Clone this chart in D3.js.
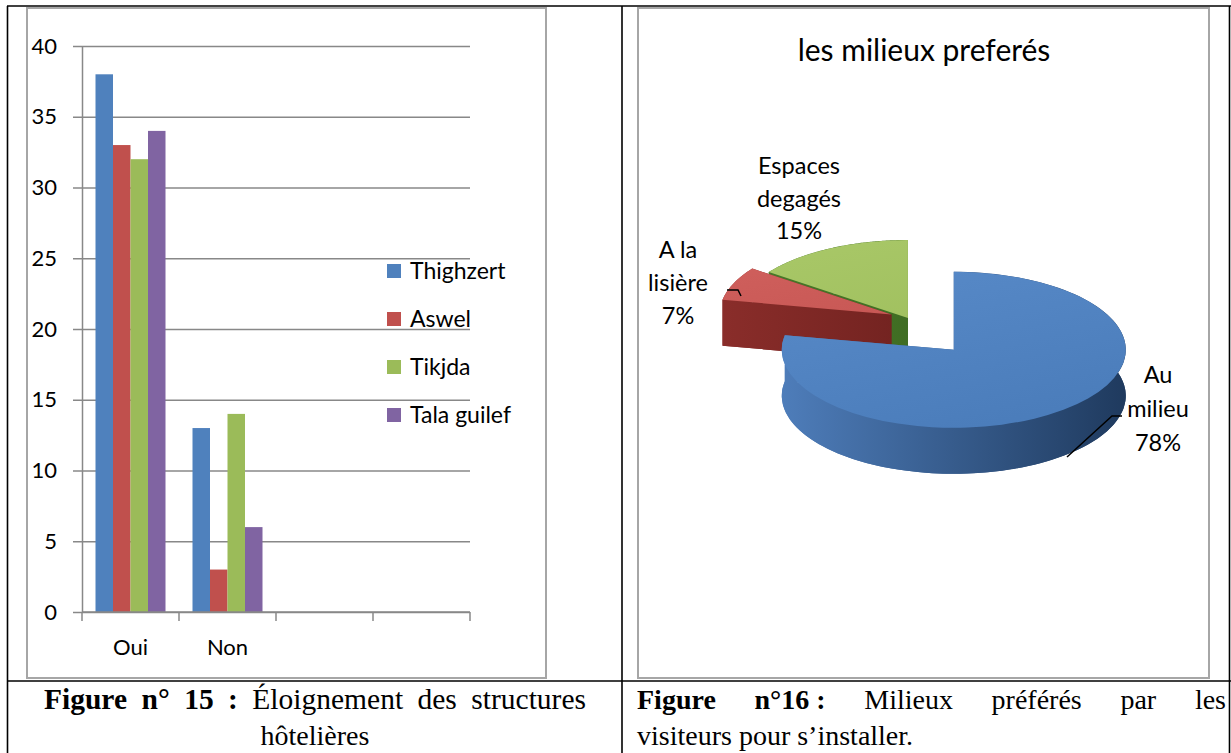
<!DOCTYPE html>
<html><head><meta charset="utf-8">
<script src="https://cdn.jsdelivr.net/npm/d3@7"></script>
<style>
html,body{margin:0;padding:0;background:#fff;}
svg{display:block;}
</style></head>
<body><svg id="c" width="1231" height="753"></svg>
<script>
// ---------- DATA ----------
const categories = ["Oui", "Non", "", ""];
const seriesNames = ["Thighzert", "Aswel", "Tikjda", "Tala guilef"];
const thighzert = [38, 13];
const aswel = [33, 3];
const tikjda = [32, 14];
const talaGuilef = [34, 6];
const yTicks = [0, 5, 10, 15, 20, 25, 30, 35, 40];

const pieTitle = "les milieux preferés";
const pieLabels = ["Au milieu", "A la lisière", "Espaces degagés"];
const pieLabelLines = [["Au", "milieu"], ["A la", "lisière"], ["Espaces", "degagés"]];
const pieValues = [78, 7, 15];

const caption1BoldWords = ["Figure", "n°", "15", ":"];
const caption1Words = ["Éloignement", "des", "structures"];
const caption1Line2 = "hôtelières";
const caption2BoldWords = ["Figure", "n°16 :"];
const caption2Words = ["Milieux", "préférés", "par", "les"];
const caption2Line2 = "visiteurs pour s’installer.";

// ---------- SETUP ----------
const svg = d3.select("#c");
const FONT = "Lato, 'Open Sans', sans-serif";
const SERIF = "'Liberation Serif', 'Times New Roman', serif";
const barColors = ["#4f81bd", "#c0504d", "#9bbb59", "#8064a2"];
const seriesValues = [thighzert, aswel, tikjda, talaGuilef];

// ---------- LEFT: grouped bar chart ----------
svg.append("rect").attr("x", 27).attr("y", 8).attr("width", 519).attr("height", 670)
  .attr("fill", "#fff").attr("stroke", "#a6a6a6").attr("stroke-width", 2);

const y = d3.scaleLinear().domain([0, 40]).range([612, 46]);
const x0 = d3.scaleBand().domain(d3.range(categories.length)).range([82, 470]);
const x1 = d3.scaleBand().domain(seriesNames).range([13.5, 83.5]);

const gy = svg.append("g").attr("transform", "translate(82,0)")
  .call(d3.axisLeft(y).tickValues(yTicks).tickSize(-(470 - 82)).tickSizeOuter(0).tickPadding(25));
gy.select(".domain").attr("stroke", "#888").attr("stroke-width", 1.5);
gy.selectAll(".tick line").attr("x1", -9).attr("stroke", "#888").attr("stroke-width", 1.5);
gy.selectAll(".tick text").attr("font-family", FONT).attr("font-size", 22).attr("fill", "#000");

const bars = svg.append("g");
categories.forEach((cat, ci) => {
  seriesNames.forEach((s, si) => {
    const v = seriesValues[si][ci];
    if (v === undefined) return;
    bars.append("rect")
      .attr("x", x0(ci) + x1(s))
      .attr("y", y(v))
      .attr("width", x1.bandwidth())
      .attr("height", y(0) - y(v))
      .attr("fill", barColors[si]);
  });
});

// x axis (Excel-like: ticks at category boundaries)
const xa = svg.append("g");
xa.append("line").attr("x1", x0.range()[0]).attr("x2", x0.range()[1])
  .attr("y1", y(0)).attr("y2", y(0)).attr("stroke", "#888").attr("stroke-width", 1.5);
const bounds = categories.map((c, i) => x0(i)).concat([x0.range()[1]]);
xa.selectAll("line.t").data(bounds).join("line").attr("class", "t")
  .attr("x1", d => d).attr("x2", d => d).attr("y1", y(0)).attr("y2", y(0) + 9)
  .attr("stroke", "#888").attr("stroke-width", 1.5);
xa.selectAll("text").data(categories).join("text")
  .attr("x", (d, i) => x0(i) + x0.bandwidth() / 2).attr("y", 647).attr("dy", "0.35em")
  .attr("text-anchor", "middle").attr("font-family", FONT).attr("font-size", 22).text(d => d);

// legend
const leg = svg.append("g");
seriesNames.forEach((s, i) => {
  const cy = 271 + i * 48;
  leg.append("rect").attr("x", 387).attr("y", cy - 7).attr("width", 14).attr("height", 14).attr("fill", barColors[i]);
  leg.append("text").attr("x", 410).attr("y", cy).attr("dy", "0.35em")
    .attr("font-family", FONT).attr("font-size", 23).text(s);
});

// ---------- RIGHT: 3D exploded pie ----------
svg.append("rect").attr("x", 638).attr("y", 8).attr("width", 571).attr("height", 670)
  .attr("fill", "#fff").attr("stroke", "#a6a6a6").attr("stroke-width", 2);

svg.append("text").attr("x", 924).attr("y", 50).attr("dy", "0.35em").attr("text-anchor", "middle")
  .attr("font-family", FONT).attr("font-size", 30).text(pieTitle);

const pieCx = 927, pieCy = 335, R = 172, RY = 78, DEPTH = 46, EXPLODE = 42, EXPLODE_K = 0.456;
const nudge = [[0, 0], [3, -13], [0, 0]];  // perspective tweak per slice
const topLight = ["#5789c7", "#d0605d", "#a8c767"];
const topBase = ["#4a7cba", "#c0504d", "#9bbb59"];
const sideLight = ["#4e7dba", "#8a2d2a", "#4a7a2a"];
const sideDark = ["#1f3a5e", "#5e1a18", "#35601c"];
const k = RY / R;
const Dl = DEPTH / k;

const defs = svg.append("defs");
const arcs = d3.pie().sort(null).value(d => d)(pieValues);
const arcGen = d3.arc().innerRadius(0).outerRadius(R);

const slices = arcs.map((a, i) => {
  const mid = (a.startAngle + a.endAngle) / 2;
  return {
    a, i,
    vx: pieCx + Math.sin(mid) * EXPLODE + nudge[i][0],
    vy: pieCy - Math.cos(mid) * EXPLODE * EXPLODE_K + nudge[i][1],
    back: Math.cos(mid)
  };
}).sort((p, q) => q.back - p.back);

const pieG = svg.append("g");
slices.forEach(s => {
  const i = s.i, a = s.a;
  const gs = defs.append("linearGradient").attr("id", "side" + i).attr("gradientUnits", "userSpaceOnUse")
    .attr("x1", -R).attr("x2", R).attr("y1", 0).attr("y2", 0);
  gs.append("stop").attr("offset", 0).attr("stop-color", sideLight[i]);
  gs.append("stop").attr("offset", 1).attr("stop-color", sideDark[i]);
  const gt = defs.append("linearGradient").attr("id", "top" + i).attr("gradientUnits", "userSpaceOnUse")
    .attr("x1", -R * 0.5).attr("x2", R * 0.5).attr("y1", -R).attr("y2", R);
  gt.append("stop").attr("offset", 0).attr("stop-color", topLight[i]);
  gt.append("stop").attr("offset", 1).attr("stop-color", topBase[i]);

  const g = pieG.append("g").attr("transform", `translate(${s.vx},${s.vy}) scale(1,${k})`);
  const side = g.append("g").attr("fill", `url(#side${i})`);
  side.append("path").attr("d", arcGen(a)).attr("transform", `translate(0,${Dl})`);
  [a.startAngle, a.endAngle].forEach(t => {
    const px = R * Math.sin(t), py = -R * Math.cos(t);
    side.append("path").attr("d", `M0,0L${px},${py}L${px},${py + Dl}L0,${Dl}Z`);
  });
  const n = 120, pts = [];
  for (let j = 0; j <= n; j++) {
    const t = a.startAngle + (a.endAngle - a.startAngle) * j / n;
    pts.push([R * Math.sin(t), -R * Math.cos(t)]);
  }
  const wall = pts.concat(pts.slice().reverse().map(p => [p[0], p[1] + Dl]));
  side.append("path").attr("d", "M" + wall.map(p => p.join(",")).join("L") + "Z");
  g.append("path").attr("d", arcGen(a)).attr("fill", `url(#top${i})`);
});

// pie labels
const labelAnchors = [[1158, 375], [678, 250], [799, 166]];
const lineStep = [34, 33, 32.5];
pieLabelLines.forEach((lines, i) => {
  const all = lines.concat([pieValues[i] + "%"]);
  all.forEach((t, j) => {
    svg.append("text").attr("x", labelAnchors[i][0]).attr("y", labelAnchors[i][1] + j * lineStep[i])
      .attr("dy", "0.35em").attr("text-anchor", "middle").attr("font-family", FONT)
      .attr("font-size", 23.5).text(t);
  });
});
const leaders = [[[1122, 416], [1112, 416], [1067, 457]], [[727, 290], [738, 290], [741, 296]]];
leaders.forEach(l => svg.append("path").attr("d", d3.line()(l)).attr("fill", "none")
  .attr("stroke", "#000").attr("stroke-width", 1.5));

// ---------- Table frame ----------
const fr = svg.append("g").attr("stroke", "#000").attr("stroke-width", 1.6);
fr.append("line").attr("x1", 7).attr("x2", 1231).attr("y1", 6).attr("y2", 6);
fr.append("line").attr("x1", 7).attr("x2", 1231).attr("y1", 681).attr("y2", 681);
[7.5, 622, 1229.5].forEach(x => fr.append("line").attr("x1", x).attr("x2", x).attr("y1", 6).attr("y2", 753));

// ---------- Captions (justified first lines) ----------
function justify(boldWords, words, left, right, yPos, size) {
  const all = boldWords.map(w => ({ w, b: true })).concat(words.map(w => ({ w, b: false })));
  const g = svg.append("g");
  const nodes = all.map(o => g.append("text").attr("y", yPos).attr("font-family", SERIF)
    .attr("font-size", size).attr("font-weight", o.b ? "bold" : "normal").text(o.w));
  const widths = nodes.map(nd => nd.node().getComputedTextLength());
  const gap = (right - left - d3.sum(widths)) / (nodes.length - 1);
  let cx = left;
  nodes.forEach((nd, i) => { nd.attr("x", cx); cx += widths[i] + gap; });
}
justify(caption1BoldWords, caption1Words, 44, 586, 709, 29.5);
svg.append("text").attr("x", 315).attr("y", 745).attr("text-anchor", "middle")
  .attr("font-family", SERIF).attr("font-size", 28).text(caption1Line2);
justify(caption2BoldWords, caption2Words, 637, 1226, 709, 28);
svg.append("text").attr("x", 637).attr("y", 745).attr("font-family", SERIF).attr("font-size", 28).text(caption2Line2);
</script>
</body></html>
